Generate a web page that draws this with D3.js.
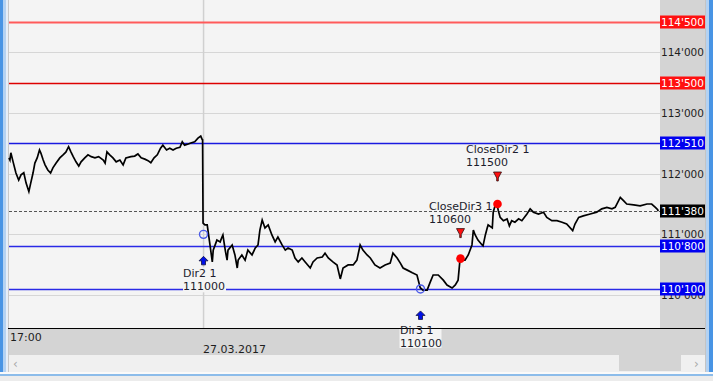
<!DOCTYPE html>
<html>
<head>
<meta charset="utf-8">
<script src="https://cdn.jsdelivr.net/npm/d3@7"></script>
<style>
  body { margin: 0; background: #f0f0f0; }
  svg { display: block; font-family: "DejaVu Sans", sans-serif; font-size: 11px; }
</style>
</head>
<body>
<svg id="chart" width="713" height="381"></svg>
<script>
// price series: minutes after 17:00 (26.03) and price
var minutes = [0, 2, 4, 9, 15, 21, 26, 32, 37, 43,
  47, 52, 56, 61, 66, 69, 74, 78, 84, 90,
  95, 102, 110, 117, 123, 129, 134, 139, 145, 151,
  156, 164, 171, 178, 186, 194, 204, 208, 212, 218,
  225, 232, 240, 247, 253, 264, 272, 279, 286, 294,
  301, 307, 314, 321, 328, 333, 341, 348, 355, 362,
  370, 375, 380, 388, 395, 402, 409, 415, 418, 419,
  420, 424, 429, 435, 440, 442, 450, 457, 461, 463,
  468, 472, 474, 483, 489, 494, 496, 504, 511, 517,
  526, 533, 539, 543, 548, 554, 561, 569, 576, 582,
  591, 598, 604, 613, 619, 626, 634, 641, 652, 658,
  667, 678, 684, 691, 701, 710, 717, 723, 734, 745,
  753, 760, 766, 775, 782, 792, 803, 814, 825, 831,
  840, 847, 853, 862, 873, 883, 890, 896, 905, 911,
  918, 929, 940, 948, 959, 966, 972, 976, 987, 994,
  1002, 1005, 1009, 1015, 1024, 1026, 1031, 1035, 1037, 1046,
  1048, 1052, 1056, 1059, 1063, 1070, 1078, 1083, 1088, 1095,
  1103, 1110, 1121, 1128, 1135, 1146, 1157, 1164, 1175, 1186,
  1197, 1207, 1220, 1225, 1233, 1243, 1258, 1272, 1283, 1294,
  1305, 1312, 1323, 1330, 1337, 1352, 1366, 1381, 1391, 1399,
  1404, 1405];
var prices = [112260, 112225, 112345, 112190, 112010, 111895, 111980, 112015, 111845, 111705,
  111845, 112010, 112175, 112260, 112390, 112340, 112225, 112145, 112060, 112010,
  112095, 112175, 112260, 112310, 112355, 112445, 112360, 112280, 112195, 112125,
  112195, 112260, 112310, 112280, 112260, 112280, 112225, 112175, 112360, 112310,
  112260, 112195, 112225, 112145, 112260, 112280, 112290, 112325, 112260, 112240,
  112215, 112180, 112260, 112310, 112420, 112470, 112390, 112420, 112390, 112420,
  112435, 112525, 112470, 112490, 112510, 112525, 112585, 112620, 112565, 112560,
  111185, 111155, 111155, 110825, 110545, 110740, 110905, 110875, 110955, 110990,
  110740, 110575, 110740, 110825, 110660, 110445, 110575, 110660, 110575, 110740,
  110660, 110775, 110825, 111070, 111235, 111105, 111155, 110990, 110875, 110955,
  110825, 110740, 110775, 110740, 110610, 110545, 110610, 110545, 110445, 110545,
  110610, 110625, 110690, 110610, 110545, 110495, 110265, 110445, 110495, 110495,
  110575, 110825, 110740, 110660, 110610, 110495, 110445, 110495, 110525, 110690,
  110610, 110525, 110445, 110410, 110365, 110330, 110120, 110080, 110080, 110200,
  110330, 110330, 110245, 110165, 110115, 110165, 110245, 110575, 110575, 110660,
  110825, 111070, 110990, 110905, 110825, 110810, 110990, 111105, 111155, 111105,
  111365, 111470, 111500, 111390, 111280, 111225, 111255, 111140, 111225, 111200,
  111255, 111225, 111335, 111420, 111365, 111335, 111365, 111280, 111225, 111225,
  111200, 111170, 111060, 111170, 111280, 111305, 111335, 111365, 111420, 111445,
  111420, 111445, 111610, 111555, 111500, 111485, 111470, 111500, 111500, 111445,
  111405, 111380];

// horizontal levels
var levelPrices = [114500, 113500, 112510, 110800, 110100];
var levelColors = ["#ff5a5a", "#dd0000", "#1a1ae0", "#2a2ae6", "#2a2ae6"];
var labelColors = ["#ff1010", "#ff1010", "#0000f0", "#0000f0", "#0000f0"];
var gridPrices = [110000, 111000, 112000, 113000, 114000];
var lastPrice = 111380;

// entries / exits
var entryNames = ["Dir2 1", "Dir3 1"];
var entryTimes = [420, 890];
var entryPrices = [111000, 110100];
var exitNames = ["CloseDir3 1", "CloseDir2 1"];
var exitTimes = [976, 1056];
var exitPrices = [110600, 111500];

var timeLabels = ["17:00", "27.03.2017"];
var timeLabelTimes = [0, 420];

var svg = d3.select("#chart");
var left = 9, plotRight = 660, right = 705, plotBottom = 328;

var x = d3.scaleLinear().domain([0, 1409]).range([left, plotRight]);
var y = d3.scaleLinear().domain([110000, 114500]).range([295, 22]);
var fmt = function(v) { return d3.format(",")(v).replace(/,/g, "'"); };

// window frame
svg.append("rect").attr("x", 0).attr("y", 0).attr("width", 713).attr("height", 381).attr("fill", "#f0f0f0");
svg.append("rect").attr("x", left).attr("y", 0).attr("width", plotRight - left).attr("height", plotBottom).attr("fill", "#f4f4f4");
svg.append("rect").attr("x", plotRight).attr("y", 0).attr("width", right - plotRight).attr("height", plotBottom).attr("fill", "#d4d4d4");
svg.append("rect").attr("x", 8).attr("y", plotBottom).attr("width", right - 8).attr("height", 27).attr("fill", "#d4d4d4");

// scrollbar
svg.append("rect").attr("x", 8).attr("y", 355).attr("width", right - 8).attr("height", 17).attr("fill", "#f0f0f0");
svg.append("rect").attr("x", 619).attr("y", 355).attr("width", 62).attr("height", 16).attr("fill", "#d4d4d4");
svg.append("text").attr("x", 13).attr("y", 368).attr("fill", "#a8a8a8").attr("font-size", 12).text("\u2039");
svg.append("text").attr("x", 694).attr("y", 368).attr("fill", "#a8a8a8").attr("font-size", 12).text("\u203a");

// borders
svg.append("rect").attr("x", 0).attr("y", 0).attr("width", 3).attr("height", 381).attr("fill", "#4894e4");
svg.append("rect").attr("x", 3).attr("y", 0).attr("width", 3).attr("height", 381).attr("fill", "#b4d2f2");
svg.append("rect").attr("x", 6).attr("y", 0).attr("width", 2).attr("height", 374).attr("fill", "#e6eef8");
svg.append("line").attr("x1", 8.5).attr("x2", 8.5).attr("y1", 0).attr("y2", 372).attr("stroke", "#c8c8c8");
svg.append("rect").attr("x", 705).attr("y", 0).attr("width", 1).attr("height", 381).attr("fill", "#c4c4c4");
svg.append("rect").attr("x", 706).attr("y", 0).attr("width", 3).attr("height", 381).attr("fill", "#b4d2f2");
svg.append("rect").attr("x", 709).attr("y", 0).attr("width", 4).attr("height", 381).attr("fill", "#4894e4");
svg.append("rect").attr("x", 0).attr("y", 372).attr("width", 713).attr("height", 2).attr("fill", "#fafafa");
svg.append("rect").attr("x", 0).attr("y", 374).attr("width", 713).attr("height", 2).attr("fill", "#8cbcea");
svg.append("rect").attr("x", 0).attr("y", 376).attr("width", 713).attr("height", 5).attr("fill", "#ececec");

// grid
svg.append("g").selectAll("line").data(gridPrices).join("line")
  .attr("x1", left).attr("x2", plotRight)
  .attr("y1", d => Math.round(y(d)) + 0.5).attr("y2", d => Math.round(y(d)) + 0.5)
  .attr("stroke", "#d6d6d6");
svg.append("line").attr("x1", x(420) + 0.5).attr("x2", x(420) + 0.5).attr("y1", 0).attr("y2", plotBottom)
  .attr("stroke", "#d0d0d0").attr("stroke-width", 1.5);

// right axis
var yAxis = d3.axisRight(y).tickValues(gridPrices).tickSize(0).tickPadding(1).tickFormat(fmt);
var ax = svg.append("g").attr("transform", `translate(${plotRight},0)`).call(yAxis);
ax.select(".domain").remove();
ax.selectAll("text").attr("fill", "#1e1e1e").style("font-family", "DejaVu Sans").style("font-size", "10.5px");

// level lines
svg.append("g").selectAll("line").data(levelPrices).join("line")
  .attr("x1", left).attr("x2", plotRight)
  .attr("y1", d => Math.round(y(d)) + 0.5).attr("y2", d => Math.round(y(d)) + 0.5)
  .attr("stroke", (d, i) => levelColors[i]).attr("stroke-width", (d, i) => i == 0 ? 2 : 1.4);
svg.append("line").attr("x1", left).attr("x2", plotRight)
  .attr("y1", Math.round(y(lastPrice)) + 0.5).attr("y2", Math.round(y(lastPrice)) + 0.5)
  .attr("stroke", "#555").attr("stroke-dasharray", "3,2");

// level labels
var lab = svg.append("g").selectAll("g").data(levelPrices).join("g")
  .attr("transform", d => `translate(${plotRight},${Math.round(y(d))})`);
lab.append("rect").attr("x", 0).attr("y", -6.5).attr("width", 45).attr("height", 13).attr("fill", (d, i) => labelColors[i]);
lab.append("text").attr("x", 1).attr("dy", "0.36em").attr("font-size", 10.5).attr("fill", "#fff").text(fmt);
var lastLab = svg.append("g").attr("transform", `translate(${plotRight},${Math.round(y(lastPrice))})`);
lastLab.append("rect").attr("x", 0).attr("y", -6.5).attr("width", 45).attr("height", 13).attr("fill", "#000");
lastLab.append("text").attr("x", 1).attr("dy", "0.36em").attr("font-size", 10.5).attr("fill", "#fff").text(fmt(lastPrice));

// price line
var series = minutes.map((m, i) => ({t: m, p: prices[i]}));
var line = d3.line().x(d => x(d.t)).y(d => y(d.p));
svg.append("path").datum(series).attr("d", line)
  .attr("fill", "none").attr("stroke", "#000").attr("stroke-width", 1.7).attr("stroke-linejoin", "miter");

// two line label, block centred on the mark
function twoLineLabel(cx, yTop, l1, l2, bg) {
  var g = svg.append("g");
  var r = g.append("rect").attr("fill", "#f4f4f4");
  var t1 = g.append("text").attr("y", yTop + 9).attr("fill", "#1c1c2c").text(l1);
  var t2 = g.append("text").attr("y", yTop + 22).attr("fill", "#1c1c2c").text(l2);
  var w = Math.max(t1.node().getComputedTextLength(), t2.node().getComputedTextLength());
  var x0 = Math.round(cx - w / 2);
  t1.attr("x", x0); t2.attr("x", x0);
  if (bg) r.attr("x", x0).attr("y", yTop - 1).attr("width", w + 1).attr("height", 25);
  else r.remove();
  return g;
}

// entries
entryTimes.forEach((t, i) => {
  var cx = Math.round(x(t)) + 0.5, cy = y(entryPrices[i]);
  svg.append("circle").attr("cx", cx).attr("cy", cy).attr("r", 4)
    .attr("fill", "none").attr("stroke", "#4a5ae8").attr("stroke-width", 1.4);
  var ay = cy + 22;
  svg.append("path")
    .attr("d", `M${cx},${ay} L${cx + 4.5},${ay + 4.5} L${cx + 2},${ay + 4.5} L${cx + 2},${ay + 8.5} L${cx - 2},${ay + 8.5} L${cx - 2},${ay + 4.5} L${cx - 4.5},${ay + 4.5} Z`)
    .attr("fill", "#0010e8").attr("stroke", "#101040").attr("stroke-width", 0.8);
  if (i == 0) twoLineLabel(cx, ay + 12, entryNames[i], String(entryPrices[i]), true);
});

// time labels
svg.selectAll(".tl").data(timeLabels).join("text")
  .attr("x", (d, i) => x(timeLabelTimes[i]) + (i == 0 ? 1 : 0))
  .attr("y", (d, i) => i == 0 ? 341 : 353)
  .attr("fill", "#1e1e1e").text(d => d);

// Dir3 label sits over the time band
var cx3 = Math.round(x(entryTimes[1])) + 0.5;
svg.append("rect").attr("x", cx3 - 21).attr("y", 323).attr("width", 42).attr("height", 25).attr("fill", "#f4f4f4");
svg.append("line").attr("x1", 8).attr("x2", right).attr("y1", plotBottom + 0.5).attr("y2", plotBottom + 0.5).attr("stroke", "#000");
twoLineLabel(cx3, 325, entryNames[1], String(entryPrices[1]), false);

// exits
exitTimes.forEach((t, i) => {
  var cx = Math.round(x(t)) + 0.5, cy = y(exitPrices[i]);
  svg.append("circle").attr("cx", cx).attr("cy", cy).attr("r", 4.3).attr("fill", "#ff0000");
  var ty = cy - (i == 0 ? 30 : 32);
  svg.append("path")
    .attr("d", `M${cx - 4},${ty} L${cx + 4},${ty} L${cx + 0.8},${ty + 6} L${cx + 0.8},${ty + 9} L${cx - 0.8},${ty + 9} L${cx - 0.8},${ty + 6} Z`)
    .attr("fill", "#ff1010").attr("stroke", "#301010").attr("stroke-width", 0.8);
  twoLineLabel(cx, ty - 28, exitNames[i], String(exitPrices[i]), false);
});
</script>
</body>
</html>
